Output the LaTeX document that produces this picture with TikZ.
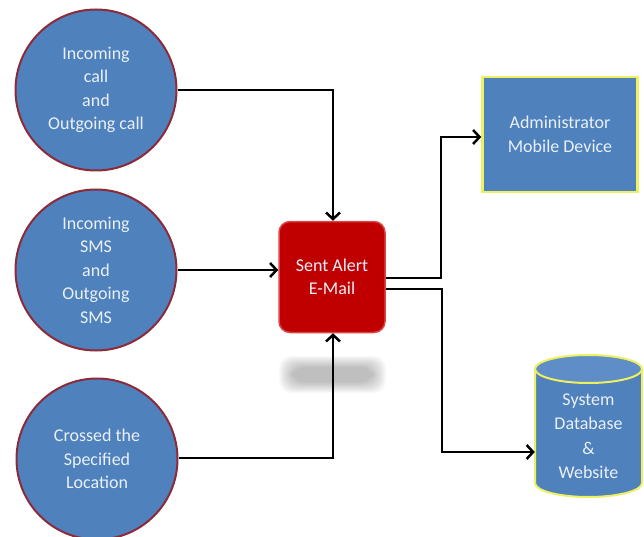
\documentclass[tikz,border=0pt]{standalone}
\usepackage{fontspec}
\setmainfont{Carlito}
\usetikzlibrary{arrows.meta}
\definecolor{cblue}{HTML}{4F81BD}
\definecolor{cborder}{HTML}{8C2A3A}
\definecolor{cyell}{HTML}{EEF060}
\definecolor{cred}{HTML}{C00000}
\definecolor{credb}{HTML}{D84848}
\definecolor{ctop}{HTML}{5E8DC8}
\definecolor{ctext}{HTML}{EAF0F8}
\tikzset{
  src/.style={circle, fill=cblue, draw=cborder, line width=2pt, minimum size=161pt, inner sep=0pt,
    align=center, text=ctext, font=\fontsize{18}{23.5}\selectfont},
  mailbox/.style={rectangle, rounded corners=11pt, fill=cred, draw=credb, line width=1.5pt,
    minimum width=106pt, minimum height=111pt, align=center, text=ctext, font=\fontsize{18}{23.5}\selectfont},
  adminbox/.style={rectangle, fill=cblue, draw=cyell, line width=2.5pt, minimum width=155pt, minimum height=115pt,
    align=center, text=ctext, font=\fontsize{18}{23.5}\selectfont},
  dbtext/.style={rectangle, minimum width=107pt, minimum height=100pt, align=center, text=ctext,
    font=\fontsize{18}{24.5}\selectfont},
  arr/.style={line width=2.5pt, -{Straight Barb[length=6.5pt,width=14pt,line width=2.5pt]}},
}
\begin{document}
\begin{tikzpicture}[x=1pt,y=-1pt]
\useasboundingbox (0,0) rectangle (644,537);
% shadow under mail box
\foreach \i in {0,...,11}{
  \fill[black, opacity=0.022, rounded corners=12pt] (279+\i*1.2,356+\i*1) rectangle (386-\i*1.2,393-\i*1);
}
\node[src] (c1) at (96,90) {Incoming\\call\\and\\Outgoing call};
\node[src] (c2) at (96,270) {Incoming\\SMS\\and\\Outgoing\\SMS};
\node[src] (c3) at (97,459) {Crossed the\\Specified\\Location};
\node[mailbox] (mail) at (332,277) {Sent Alert\\E-Mail};
\node[adminbox] (admin) at (560,134.5) {Administrator\\Mobile Device};
% cylinder
\draw[fill=cblue, draw=cyell, line width=2pt] (535,369) -- (535,483) arc[start angle=180, end angle=360, x radius=53.5pt, y radius=14pt] -- (642,369);
\draw[fill=ctop, draw=cyell, line width=2pt] (588.5,369) ellipse[x radius=53.5pt, y radius=14pt];
\node[dbtext] (db) at (588.5,436) {System\\Database\\\&\\Website};
% connectors
\coordinate (k1) at (333,90);
\coordinate (k3) at (333,458);
\coordinate (ka) at (441,137);
\coordinate (kb) at (442,452);
\draw[arr] (c1.east) -- (k1) -- (mail.north -| k1);
\draw[arr] (c2.east) -- (mail.west |- c2.east);
\draw[arr] (c3.east |- k3) -- (k3) -- (mail.south -| k3);
\draw[arr] (mail.east |- 0,278) -| (ka) -- (admin.west |- ka);
\draw[arr] (mail.east |- 0,289) -| (kb) -- (db.west |- kb);
\end{tikzpicture}
\end{document}
